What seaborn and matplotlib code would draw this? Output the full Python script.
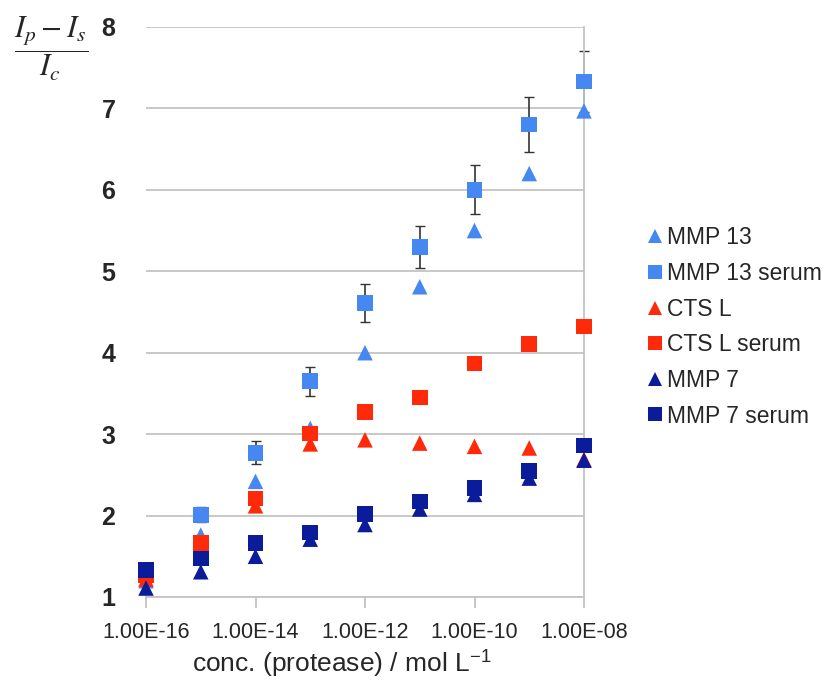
import numpy as np
import pandas as pd
import matplotlib
matplotlib.use("Agg")
import matplotlib.pyplot as plt
import seaborn as sns

# ---------------- data ----------------
conc = [1e-16, 1e-15, 1e-14, 1e-13, 1e-12, 1e-11, 1e-10, 1e-9, 1e-8]
series_names = ["MMP 13", "MMP 13 serum", "CTS L", "CTS L serum", "MMP 7", "MMP 7 serum"]
mmp13 = [1.20, 1.76, 2.42, 3.07, 4.00, 4.81, 5.50, 6.20, 6.97]
mmp13_serum = [1.28, 2.01, 2.77, 3.65, 4.61, 5.30, 6.00, 6.80, 7.33]
mmp13_serum_err = [0.05, 0.09, 0.14, 0.18, 0.23, 0.26, 0.30, 0.34, 0.37]
ctsl = [1.22, 1.60, 2.12, 2.88, 2.93, 2.89, 2.85, 2.83, 2.69]
ctsl_serum = [1.27, 1.66, 2.21, 3.01, 3.27, 3.45, 3.87, 4.11, 4.32]
mmp7 = [1.11, 1.31, 1.50, 1.71, 1.89, 2.08, 2.26, 2.46, 2.68]
mmp7_serum = [1.33, 1.47, 1.66, 1.79, 2.02, 2.17, 2.34, 2.55, 2.86]
xtick_values = [1e-16, 1e-14, 1e-12, 1e-10, 1e-8]
xtick_labels = ["1.00E-16", "1.00E-14", "1.00E-12", "1.00E-10", "1.00E-08"]
ytick_values = [1, 2, 3, 4, 5, 6, 7, 8]

values = [mmp13, mmp13_serum, ctsl, ctsl_serum, mmp7, mmp7_serum]
df = pd.DataFrame({
    "conc": np.tile(conc, len(series_names)),
    "value": np.concatenate(values),
    "series": np.repeat(series_names, len(conc)),
})

light_blue = "#4688F2"
red = "#FF2A0A"
dark_blue = "#0A1C9A"
palette = {"MMP 13": light_blue, "MMP 13 serum": light_blue,
           "CTS L": red, "CTS L serum": red,
           "MMP 7": dark_blue, "MMP 7 serum": dark_blue}
markers = {"MMP 13": "^", "MMP 13 serum": "s",
           "CTS L": "^", "CTS L serum": "s",
           "MMP 7": "^", "MMP 7 serum": "s"}

# ---------------- figure ----------------
sns.set_theme(style="white")
plt.rcParams["font.family"] = ["Liberation Sans", "DejaVu Sans"]
plt.rcParams["mathtext.fontset"] = "stix"

fig = plt.figure(figsize=(8.3, 6.84), dpi=100)
ax = fig.add_axes([146 / 830, 1 - 597 / 684, (584 - 146) / 830, (597 - 27) / 684])

_, caps, bars = ax.errorbar(conc, mmp13_serum, yerr=mmp13_serum_err, fmt="none",
                            ecolor="#333333", elinewidth=1.2, capsize=3.5,
                            capthick=1.0, zorder=2)
for artist in list(caps) + list(bars):
    artist.set_clip_on(False)

sns.scatterplot(data=df, x="conc", y="value", hue="series", style="series",
                palette=palette, markers=markers, hue_order=series_names,
                style_order=series_names, s=125, linewidth=0, ax=ax, zorder=3,
                legend=True)
for coll in ax.collections:
    coll.set_clip_on(False)

ax.set_xscale("log")
ax.set_xlim(1e-16, 1e-8)
ax.set_ylim(1, 8)
ax.set_xticks(xtick_values)
ax.set_xticklabels(xtick_labels, fontsize=15.5)
ax.minorticks_off()
ax.set_yticks(ytick_values)
ax.set_yticklabels([str(v) for v in ytick_values], fontsize=18, fontweight="bold")
ax.tick_params(axis="x", direction="out", length=8, width=1.2, color="#BFBFBF",
               pad=10, bottom=True)
ax.tick_params(axis="y", length=0, pad=22)

ax.grid(axis="y", color="#C4C4C4", linewidth=1.3)
ax.set_axisbelow(True)
for side in ["left", "top"]:
    ax.spines[side].set_visible(False)
for side in ["bottom", "right"]:
    ax.spines[side].set_visible(True)
    ax.spines[side].set_color("#C4C4C4")
    ax.spines[side].set_linewidth(1.3)

ax.set_xlabel("conc. (protease) / mol L$^{\\mathregular{-1}}$", fontsize=19, labelpad=3)
ax.xaxis.label.set_x((342 - 146) / 438)
ax.set_ylabel("")

fig.text(51 / 830, 1 - 49 / 684, r"$\dfrac{I_p - I_s}{I_c}$", fontsize=22,
         ha="center", va="center")

sns.move_legend(ax, loc="center left", bbox_to_anchor=(646 / 830, 1 - 327 / 684),
                bbox_transform=fig.transFigure, frameon=False, title=None,
                fontsize=16.5, handletextpad=0.1, handlelength=0.8,
                labelspacing=0.55, markerscale=0.85, borderaxespad=0,
                borderpad=0)

fig.savefig("out.png", dpi=100)
